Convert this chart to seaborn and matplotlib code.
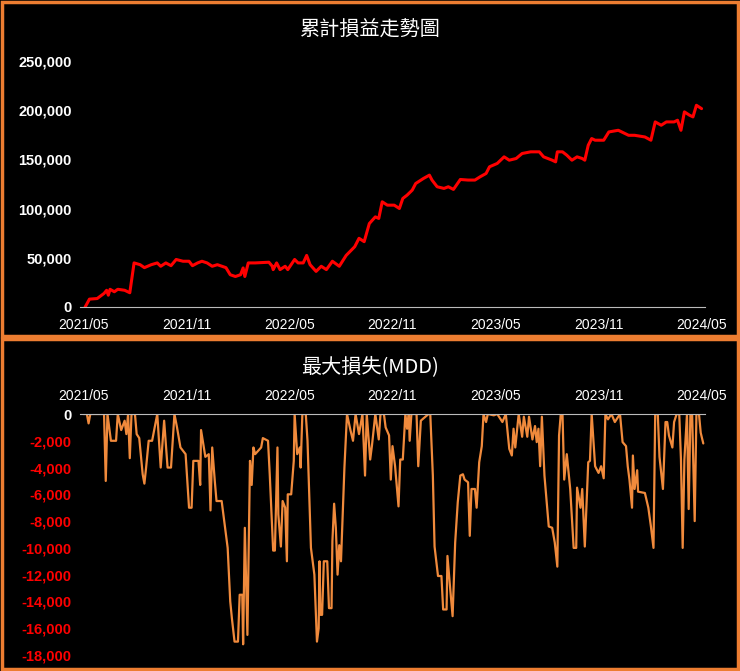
import numpy as np
import pandas as pd
import matplotlib
matplotlib.use("Agg")
import matplotlib.pyplot as plt
import seaborn as sns
from matplotlib.patches import Rectangle

# months elapsed since 2021/05
pnl_month = [0.1, 0.35, 0.8, 1.2, 1.35, 1.45, 1.55, 1.8, 2.0, 2.4, 2.7, 2.95, 3.3, 3.55, 3.95, 4.3, 4.5, 4.8,
             5.1, 5.4, 5.8, 6.15, 6.35, 6.65, 6.9, 7.2, 7.5, 7.8, 8.3, 8.55, 8.85, 9.15, 9.3, 9.4, 9.6, 10.0,
             10.8, 11.0, 11.05, 11.25, 11.45, 11.75, 11.9, 12.3, 12.5, 12.8, 13.0, 13.2, 13.55, 13.85, 14.15,
             14.5, 14.9, 15.3, 15.8, 16.05, 16.35, 16.65, 17.0, 17.2, 17.4, 17.7, 18.1, 18.4, 18.6, 18.85,
             19.15, 19.35, 19.5, 19.8, 20.15, 20.3, 20.6, 21.0, 21.25, 21.55, 21.95, 22.4, 22.8, 23.1, 23.45,
             23.65, 24.1, 24.5, 24.8, 25.2, 25.55, 26.05, 26.55, 26.8, 27.3, 27.5, 27.6, 27.9, 28.15, 28.45,
             28.75, 29.05, 29.2, 29.4, 29.6, 29.8, 30.3, 30.6, 31.15, 31.75, 32.1, 32.7, 33.05, 33.3, 33.65,
             33.95, 34.4, 34.6, 34.8, 35.0, 35.3, 35.5, 35.7, 36.0]
pnl_value = [0, 8000, 8600, 13800, 17000, 12000, 18000, 15500, 18000, 17000, 14500, 44800, 43000, 40000, 43000,
             44800, 41400, 44800, 42000, 48300, 46500, 46500, 42000, 44800, 46500, 44800, 41400, 43000, 40000,
             32800, 31000, 32800, 39700, 31000, 44800, 44800, 45500, 41400, 38000, 44800, 38000, 41400, 38000,
             48300, 44800, 44800, 52400, 43000, 36200, 41400, 38000, 46500, 41400, 52400, 61300, 69800, 66400,
             84800, 91600, 90000, 106900, 103500, 103500, 100100, 110300, 113700, 118800, 125500, 127200,
             130600, 134000, 129000, 122200, 120500, 122200, 119500, 129600, 129000, 129000, 132300, 135700,
             142500, 145900, 152600, 149200, 150900, 156000, 157700, 157700, 152600, 149200, 147500, 157700,
             157700, 154300, 149200, 152600, 150900, 149200, 164400, 171200, 169500, 169500, 177900, 179600,
             174500, 174500, 172800, 169500, 188100, 184700, 188100, 188100, 189800, 179600, 198300, 194900,
             193200, 205000, 201600]

mdd_month = [0, 0.2, 0.3, 0.4, 1.2, 1.3, 1.4, 1.6, 1.9, 2.0, 2.2, 2.4, 2.5, 2.6, 2.7, 2.8, 3.0, 3.1, 3.25, 3.45,
             3.55, 3.65, 3.8, 4.0, 4.3, 4.5, 4.7, 4.9, 5.1, 5.3, 5.45, 5.65, 5.95, 6.15, 6.3, 6.4, 6.7, 6.8, 6.85,
             7.1, 7.3, 7.4, 7.5, 7.65, 7.75, 8.05, 8.25, 8.4, 8.55, 8.65, 8.8, 9.0, 9.1, 9.25, 9.3, 9.4, 9.55,
             9.7, 9.8, 9.9, 10.0, 10.35, 10.45, 10.75, 10.85, 11.05, 11.15, 11.3, 11.35, 11.5, 11.6, 11.75,
             11.85, 11.9, 12.1, 12.25, 12.3, 12.45, 12.6, 12.65, 12.75, 12.95, 13.05, 13.25, 13.45, 13.6, 13.7,
             13.75, 13.8, 13.9, 14.0, 14.2, 14.3, 14.45, 14.5, 14.6, 14.7, 14.8, 14.9, 15.0, 15.2, 15.35,
             15.55, 15.7, 15.85, 16.05, 16.25,
             16.4, 16.5, 16.7, 16.8, 17.0, 17.2, 17.3, 17.5, 17.6, 17.8, 17.9, 18.0, 18.15, 18.35, 18.45,
             18.6, 18.75, 18.85, 18.95, 19.0, 19.1, 19.4, 19.5, 19.65, 20.1, 20.2, 20.35, 20.45, 20.65, 20.85,
             20.95, 21.15, 21.2, 21.35, 21.5, 21.65, 21.8, 21.95, 22.1, 22.2, 22.4, 22.5, 22.6, 22.8, 22.9,
             23.05, 23.2, 23.3, 23.45, 23.55, 23.9, 24.1, 24.4, 24.6, 24.8, 24.95, 25.05, 25.15, 25.35, 25.55,
             25.65, 25.85, 25.95, 26.15, 26.3, 26.4, 26.5, 26.6, 26.7, 26.85, 27.1, 27.3, 27.45, 27.6, 27.7,
             27.8, 27.9, 28.0, 28.15, 28.35, 28.55, 28.7, 28.75, 28.95, 29.05, 29.2, 29.4, 29.5, 29.6, 29.7,
             29.8, 30.0, 30.15, 30.3, 30.4, 30.55, 30.75, 30.95, 31.25, 31.4, 31.6, 31.7, 31.8, 31.95, 32.0,
             32.1, 32.25, 32.3, 32.7, 32.9, 33.05, 33.2, 33.3, 33.45, 33.55, 33.75, 33.9, 34.0, 34.1, 34.3,
             34.4, 34.55, 34.7, 34.8, 34.9, 35.0, 35.15, 35.25, 35.35, 35.45, 35.6, 35.7, 35.85, 35.95, 36.1]
mdd_value = [0, 0, -700, 0, 0, -5000, 0, -2000, -2000, 0, -1200, -500, -1500, 0, -3300, 0, 0, -1500, -1800, -4500,
             -5200, -4000, -2000, -2000, 0, -4000, -500, -4000, -4000, 0, -1000, -2500, -3000, -7000, -7000, -3500,
             -3500, -5300, -1200, -3200, -3000, -7200, -2500, -5000, -6500, -6500, -8500, -10000, -14000, -15300,
             -17000, -17000, -13500, -13500, -17200, -8500, -16500, -3500, -5300, -2500, -3000, -2500, -1800,
             -2000, -4500, -10200, -10200, -2500, -7500, -9900, -6500, -7000, -11000, -6000, -6000, -3500, 0,
             -3000, -2500, -4000, 0, 0, -2000, -10000, -12000, -17000, -16000, -11000, -15000, -15000, -11000,
             -11000, -14500, -14500, -9500, -6700, -8500, -12000, -9800, -11000, -4000, 0, -1200, -2000, 0, -1500, 0,
             -4600, 0, -3400, -2400, 0, -1900, 0, 0, -1000, -1600, -4900, -2400, -3900, -6900, -3400,
             -3400, 0, -1100, 0, -2000, 0, 0, -3900, -500, 0, 0, -4600, -9900, -12100, -12100,
             -14600, -14600, -10600, -12900, -15100, -9600, -6600, -4600, -4500, -4900, -5100, -9100, -5600, -5600,
             -7000, -3600, -2400, 0, -600, 0, -100, 0, -600, 0, -2600, -3100, -1100, -2500, 0, -1700,
             -200, -1700, -200, -1900, -900, -2100, -1100, -3900, -200, -4600, -8400, -8500, -9600, -11400, -1600,
             0, 0, -4900, -3000, -5600, -10000, -10000, -5500, -7000, -5600, -9900, -3600, -3500, 0, -1900,
             -3900, -4400, -3900, -4800, 0, -400, 0, -600, 0, -2100, -2400, -3900, -4900, -7000, -3100,
             -5600, -4200, -5800, -5900, -7000, -8400, -10000, 0, 0, -3200, -5600, -600, -600, -1600, -2500,
             -600, 0, 0, -3400, -10000, -3400, 0, -7100, 0, 0, -8000, 0, 0, -1400, -2200]

tick_month = [0, 6, 12, 18, 24, 30, 36]
tick_label = ["2021/05", "2021/11", "2022/05", "2022/11", "2023/05", "2023/11", "2024/05"]

pnl_df = pd.DataFrame({"month": pnl_month, "pnl": pnl_value})
mdd_df = pd.DataFrame({"month": mdd_month, "mdd": mdd_value})

sns.set_style("dark", {"axes.facecolor": "black", "figure.facecolor": "black"})
plt.rcParams["font.family"] = ["Liberation Sans", "Noto Sans CJK TC", "DejaVu Sans"]

W, H = 740, 671
fig = plt.figure(figsize=(W / 100, H / 100), dpi=100)
fig.patch.set_facecolor("black")

def box(l, t, r, b):
    return [l / W, 1 - b / H, (r - l) / W, (b - t) / H]

# 外框
for (l, t, r, b) in [(2, 2, 738, 336), (2, 339, 738, 669)]:
    fig.patches.append(Rectangle((l / W, 1 - b / H), (r - l) / W, (b - t) / H, transform=fig.transFigure,
                                 fill=False, edgecolor="#ED7D31", linewidth=2.5))

ax1 = fig.add_axes(box(80, 61, 705, 307))
sns.lineplot(data=pnl_df, x="month", y="pnl", ax=ax1, color="#FF0000", linewidth=2.2)
ax1.set_xlim(-0.2, 36.2)
ax1.set_ylim(0, 250000)
ax1.set_yticks(range(0, 250001, 50000))
ax1.set_yticklabels([f"{v:,}" for v in range(0, 250001, 50000)], color="white", fontweight="bold", fontsize=10.5)
ax1.set_xticks(tick_month)
ax1.set_xticklabels(tick_label, color="white", fontsize=10)
for s in ["top", "right", "left"]:
    ax1.spines[s].set_visible(False)
ax1.spines["bottom"].set_color("#BBBBBB")
ax1.tick_params(axis="y", length=0, pad=6)
ax1.tick_params(axis="x", length=0, pad=8)
ax1.set_xlabel("")
ax1.set_ylabel("")
ax1.grid(False)
fig.text(370 / W, 1 - 30 / H, "累計損益走勢圖", color="white", fontsize=14.5, ha="center", va="center",
         family=["Noto Sans CJK TC", "DejaVu Sans"])

ax2 = fig.add_axes(box(80, 414, 705, 655))
sns.lineplot(data=mdd_df, x="month", y="mdd", ax=ax2, color="#F08A3C", linewidth=1.6)
ax2.set_xlim(-0.2, 36.2)
ax2.set_ylim(-18000, 0)
ax2.set_yticks(range(-18000, 1, 2000))
ax2.set_yticklabels([f"{v:,}" for v in range(-18000, 1, 2000)], fontweight="bold", fontsize=10.5)
for lab in ax2.get_yticklabels():
    lab.set_color("white" if lab.get_text() == "0" else "#FF0000")
ax2.xaxis.tick_top()
ax2.set_xticks(tick_month)
ax2.set_xticklabels(tick_label, color="white", fontsize=10)
for s in ["bottom", "right", "left"]:
    ax2.spines[s].set_visible(False)
ax2.spines["top"].set_color("#BBBBBB")
ax2.tick_params(axis="y", length=0, pad=6)
ax2.tick_params(axis="x", length=0, pad=8)
ax2.set_xlabel("")
ax2.set_ylabel("")
ax2.grid(False)
fig.text(370 / W, 1 - 367 / H, "最大損失(MDD)", color="white", fontsize=14.5, ha="center", va="center",
         family=["Noto Sans CJK TC", "DejaVu Sans"])

fig.savefig("out.png", dpi=100, facecolor="black")
